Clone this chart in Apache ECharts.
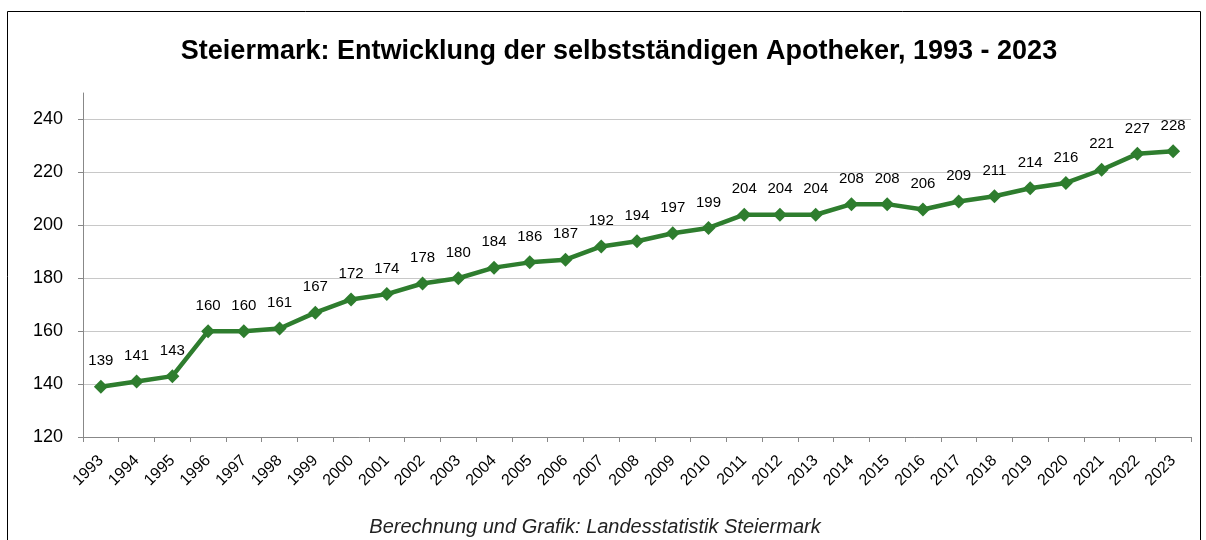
<!DOCTYPE html>
<html>
<head>
<meta charset="utf-8">
<script src="https://cdn.jsdelivr.net/npm/echarts@6/dist/echarts.min.js"></script>
<style>
  html, body { margin: 0; padding: 0; background: #fff; }
  #chart { width: 1206px; height: 540px; }
</style>
</head>
<body>
<div id="chart"></div>
<script>
// Jahre und Anzahl selbstständiger Apotheker
var years = ['1993', '1994', '1995', '1996', '1997', '1998', '1999', '2000', '2001', '2002',
  '2003', '2004', '2005', '2006', '2007', '2008', '2009', '2010', '2011', '2012',
  '2013', '2014', '2015', '2016', '2017', '2018', '2019', '2020', '2021', '2022', '2023'];
var apotheker = [139, 141, 143, 160, 160, 161, 167, 172, 174, 178,
  180, 184, 186, 187, 192, 194, 197, 199, 204, 204,
  204, 208, 208, 206, 209, 211, 214, 216, 221, 227, 228];

var fontName = '"Liberation Sans", Arial, sans-serif';
var myChart = echarts.init(document.getElementById('chart'));

var option = {
  backgroundColor: '#fff',
  animation: false,
  title: {
    text: 'Steiermark: Entwicklung der selbstständigen Apotheker, 1993 - 2023',
    left: 614,
    textAlign: 'center',
    top: 33,
    textStyle: { fontFamily: fontName, fontSize: 27, fontWeight: 'bold', color: '#000' }
  },
  graphic: [
    {
      type: 'rect',
      shape: { x: 7.5, y: 11.5, width: 1193, height: 600 },
      style: { fill: 'none', stroke: '#000', lineWidth: 1 },
      silent: true
    },
    {
      type: 'text',
      x: 595,
      y: 527,
      style: {
        text: 'Berechnung und Grafik: Landesstatistik Steiermark',
        align: 'center',
        verticalAlign: 'middle',
        fontFamily: fontName, fontSize: 20, fontStyle: 'italic', fill: '#222'
      }
    }
  ],
  grid: { left: 83, right: 15, top: 93, bottom: 103 },
  xAxis: {
    type: 'category',
    data: years,
    boundaryGap: true,
    axisLine: { lineStyle: { color: '#888', width: 1 } },
    axisTick: { show: true, length: 5, alignWithLabel: false, lineStyle: { color: '#888' } },
    axisLabel: {
      rotate: 45,
      interval: 0,
      margin: 21,
      fontFamily: fontName,
      fontSize: 16,
      color: '#000'
    }
  },
  yAxis: {
    type: 'value',
    min: 120,
    max: 250,
    interval: 20,
    axisLine: { show: true, lineStyle: { color: '#888', width: 1 } },
    axisTick: { show: true, length: 5, lineStyle: { color: '#888' } },
    axisLabel: {
      showMaxLabel: false,
      margin: 20,
      fontFamily: fontName,
      fontSize: 18,
      color: '#000'
    },
    splitLine: { show: true, showMaxLine: false, lineStyle: { color: '#c8c8c8', width: 1 } }
  },
  series: [{
    type: 'line',
    data: apotheker,
    symbol: 'diamond',
    symbolSize: 14,
    lineStyle: { color: '#2e7d2e', width: 4.5 },
    itemStyle: { color: '#2e7d2e' },
    label: {
      show: true,
      position: 'top',
      distance: 11,
      fontFamily: fontName,
      fontSize: 15,
      color: '#000'
    }
  }]
};

myChart.setOption(option);
</script>
</body>
</html>
